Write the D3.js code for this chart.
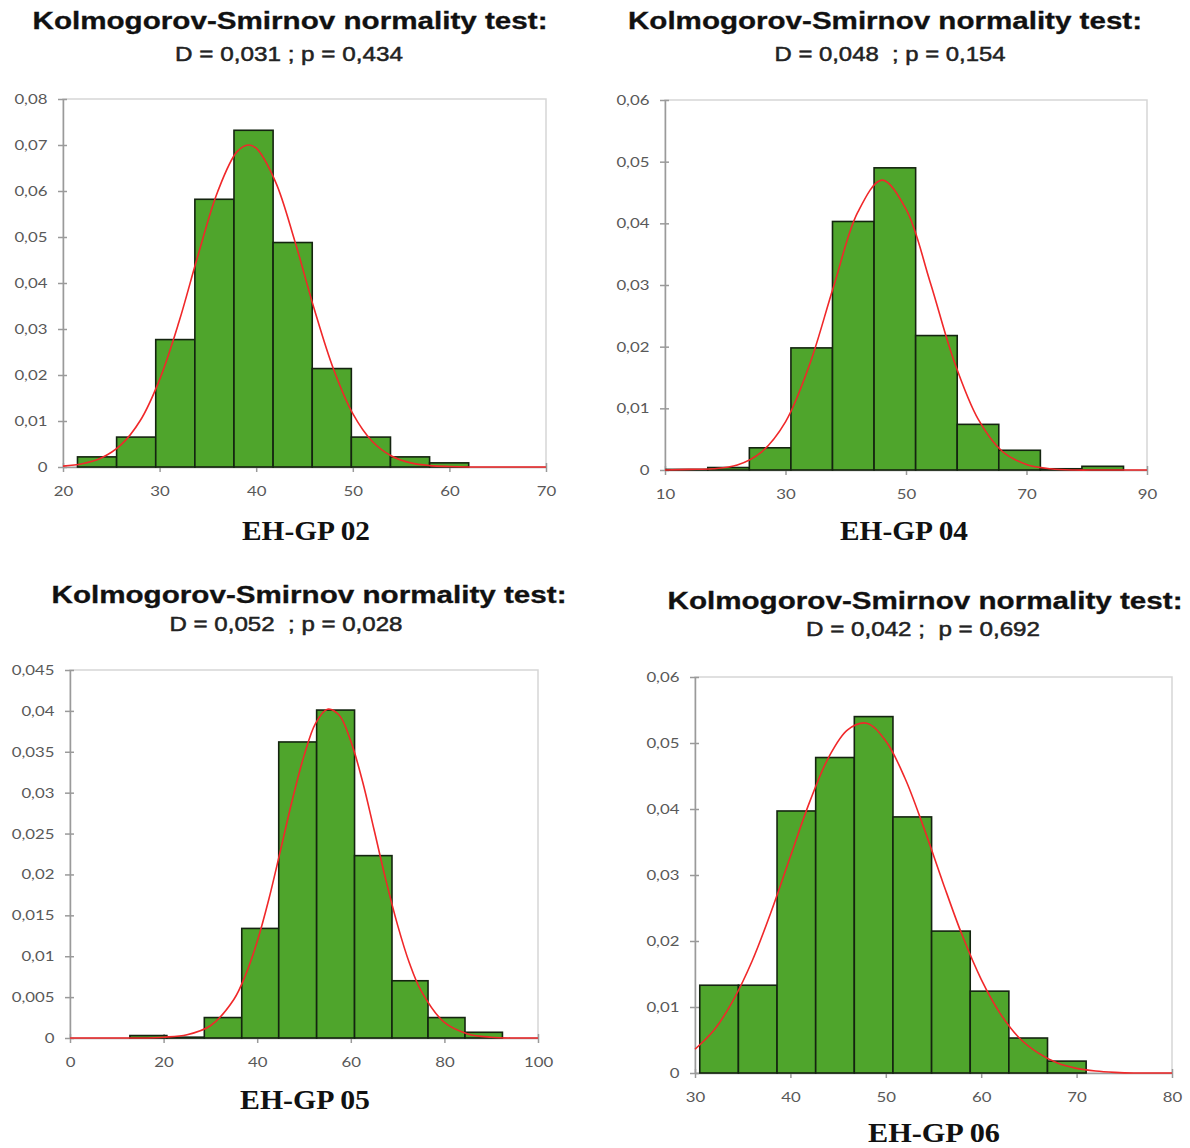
<!DOCTYPE html>
<html>
<head>
<meta charset="utf-8">
<title>KS normality histograms</title>
<script src="https://d3js.org/d3.v7.min.js"></script>
<style>
  body { margin: 0; background: #fff; }
  svg { display: block; }
  .title { font-family: "Liberation Sans", Arial, sans-serif; font-weight: bold; font-size: 23px; fill: #111; stroke: #111; stroke-width: 0.3; }
  .sub { font-family: "Liberation Sans", Arial, sans-serif; font-size: 21px; fill: #222; stroke: #222; stroke-width: 0.5; white-space: pre; }
  .name { font-family: "Liberation Serif", "Times New Roman", serif; font-weight: bold; font-size: 28px; fill: #111; }
  .axis text { font-family: Lato, "Open Sans", sans-serif; font-size: 14px; fill: #595959; }
  .axis path, .axis line { stroke: #9a9a9a; stroke-width: 1.5; }
</style>
</head>
<body>
<svg id="viz" width="1190" height="1148"></svg>
<script>
  const titleText = "Kolmogorov-Smirnov normality test:"
  const panelNames = ["EH-GP 02", "EH-GP 04", "EH-GP 05", "EH-GP 06"]
  const ksText = ["D = 0,031 ; p = 0,434", "D = 0,048  ; p = 0,154", "D = 0,052  ; p = 0,028", "D = 0,042 ;  p = 0,692"]

  // EH-GP 02
  const xDom02 = [20, 70]
  const xTicks02 = [20, 30, 40, 50, 60, 70]
  const yTicks02 = [0, 0.01, 0.02, 0.03, 0.04, 0.05, 0.06, 0.07, 0.08]
  const edges02 = [21.5, 25.55, 29.6, 33.65, 37.7, 41.75, 45.8, 49.85, 53.9, 57.95, 62.0]
  const dens02 = [0.0022, 0.0065, 0.0277, 0.0582, 0.0732, 0.0488, 0.0214, 0.0065, 0.0022, 0.0009]
  const curveX02 = [20, 22, 24, 26, 28, 30, 32, 34, 36, 38, 39.2, 40, 42, 44, 46, 48, 50, 52, 54, 56, 58, 60, 62, 66, 70]
  const curveY02 = [0.0002, 0.0007, 0.0020, 0.0048, 0.0101, 0.0190, 0.0315, 0.0462, 0.0598, 0.0685, 0.0700, 0.0693, 0.0620, 0.0491, 0.0344, 0.0213, 0.0116, 0.0056, 0.0024, 0.0009, 0.0003, 0.0001, 0, 0, 0]

  // EH-GP 04
  const xDom04 = [10, 90]
  const xTicks04 = [10, 30, 50, 70, 90]
  const yTicks04 = [0, 0.01, 0.02, 0.03, 0.04, 0.05, 0.06]
  const edges04 = [10.2, 17.1, 24.0, 30.9, 37.8, 44.7, 51.6, 58.5, 65.4, 72.3, 79.2, 86.1]
  const dens04 = [0.0001, 0.0004, 0.0036, 0.0198, 0.0403, 0.0490, 0.0218, 0.0074, 0.0032, 0.0002, 0.0006]
  const curveX04 = [10, 14, 18, 22, 26, 30, 34, 38, 42, 46, 50, 54, 58, 62, 66, 70, 74, 78, 82, 86, 90]
  const curveY04 = [0, 0.0001, 0.0002, 0.0008, 0.0029, 0.0078, 0.0171, 0.0298, 0.0418, 0.0470, 0.0423, 0.0305, 0.0176, 0.0082, 0.0030, 0.0009, 0.0002, 0, 0, 0, 0]

  // EH-GP 05
  const xDom05 = [0, 100]
  const xTicks05 = [0, 20, 40, 60, 80, 100]
  const yTicks05 = [0, 0.005, 0.01, 0.015, 0.02, 0.025, 0.03, 0.035, 0.04, 0.045]
  const edges05 = [12.8, 20.7, 28.7, 36.7, 44.6, 52.7, 60.8, 68.8, 76.5, 84.4, 92.4]
  const dens05 = [0.0003, 0.0001, 0.0025, 0.0134, 0.0362, 0.0401, 0.0223, 0.0070, 0.0025, 0.0007]
  const curveX05 = [0, 5, 10, 15, 20, 25, 30, 35, 37.5, 40, 42.5, 45, 47.5, 50, 52.5, 55, 57.5, 60, 62.5, 65, 67.5, 70, 72.5, 75, 80, 85, 90, 95, 100]
  const curveY05 = [0, 0, 0, 0, 0.0001, 0.0004, 0.0015, 0.0047, 0.0077, 0.0118, 0.0170, 0.0230, 0.0291, 0.0345, 0.0385, 0.0402, 0.0395, 0.0363, 0.0314, 0.0254, 0.0193, 0.0138, 0.0092, 0.0058, 0.0019, 0.0005, 0.0001, 0, 0]

  // EH-GP 06
  const xDom06 = [30, 80]
  const xTicks06 = [30, 40, 50, 60, 70, 80]
  const yTicks06 = [0, 0.01, 0.02, 0.03, 0.04, 0.05, 0.06]
  const edges06 = [30.5, 34.55, 38.6, 42.65, 46.7, 50.75, 54.8, 58.85, 62.9, 66.95, 71.0]
  const dens06 = [0.0133, 0.0133, 0.0397, 0.0478, 0.0540, 0.0388, 0.0215, 0.0124, 0.0053, 0.0018]
  const curveX06 = [30, 32, 34, 36, 38, 40, 42, 44, 46, 48, 50, 52, 54, 56, 58, 60, 62, 64, 66, 68, 70, 72, 74, 76, 78, 80]
  const curveY06 = [0.0036, 0.0065, 0.0110, 0.0170, 0.0245, 0.0328, 0.0410, 0.0478, 0.0520, 0.0530, 0.0503, 0.0447, 0.0371, 0.0288, 0.0209, 0.0142, 0.0090, 0.0053, 0.0030, 0.0015, 0.0007, 0.0003, 0.0001, 0, 0, 0]

  // where each panel sits on the page
  const layout = [
    { x0: 63, x1: 546, y0: 99, y1: 467, tX: 290, tY: 29, tW: 515, sX: 289, sY: 61, sW: 228, nX: 306, nY: 540, nW: 128 },
    { x0: 665, x1: 1147, y0: 100, y1: 470, tX: 885, tY: 29, tW: 514, sX: 890, sY: 61, sW: 231, nX: 904, nY: 540, nW: 128 },
    { x0: 70, x1: 538, y0: 670, y1: 1038, tX: 309, tY: 603, tW: 515, sX: 286, sY: 631, sW: 233, nX: 305, nY: 1109, nW: 130 },
    { x0: 695, x1: 1172, y0: 677, y1: 1073, tX: 925, tY: 609, tW: 515, sX: 923, sY: 636, sW: 234, nX: 934, nY: 1142, nW: 132 }
  ]

  const panels = [
    { xDom: xDom02, xTicks: xTicks02, yTicks: yTicks02, edges: edges02, dens: dens02, cx: curveX02, cy: curveY02 },
    { xDom: xDom04, xTicks: xTicks04, yTicks: yTicks04, edges: edges04, dens: dens04, cx: curveX04, cy: curveY04 },
    { xDom: xDom05, xTicks: xTicks05, yTicks: yTicks05, edges: edges05, dens: dens05, cx: curveX05, cy: curveY05 },
    { xDom: xDom06, xTicks: xTicks06, yTicks: yTicks06, edges: edges06, dens: dens06, cx: curveX06, cy: curveY06 }
  ]

  const fmt = d3.formatLocale({ decimal: ",", thousands: ".", grouping: [3], currency: ["", ""] }).format(".3~f")
  const svg = d3.select("#viz")

  panels.forEach((p, k) => {
    const L = layout[k]
    const x = d3.scaleLinear().domain(p.xDom).range([L.x0, L.x1])
    const y = d3.scaleLinear().domain([0, d3.max(p.yTicks)]).range([L.y1, L.y0])
    const g = svg.append("g")

    // plot area frame (top + right are light grey)
    g.append("rect")
      .attr("x", L.x0).attr("y", L.y0)
      .attr("width", L.x1 - L.x0).attr("height", L.y1 - L.y0)
      .attr("fill", "none").attr("stroke", "#d6d6d6").attr("stroke-width", 1.5)

    // axes
    const yAxis = g.append("g").attr("class", "axis")
      .attr("transform", `translate(${L.x0},0)`)
      .call(d3.axisLeft(y).tickValues(p.yTicks).tickFormat(fmt).tickSize(5).tickPadding(8).tickSizeOuter(0))
    yAxis.selectAll("line").attr("x1", 4).attr("x2", -5)
    yAxis.selectAll("text").attr("transform", "scale(1.2,1)")

    const xAxis = g.append("g").attr("class", "axis")
      .attr("transform", `translate(0,${L.y1})`)
      .call(d3.axisBottom(x).tickValues(p.xTicks).tickFormat(d3.format("d")).tickSize(5).tickPadding(14).tickSizeOuter(0))
    xAxis.selectAll("line").attr("y1", -4).attr("y2", 5)
    xAxis.selectAll("text").attr("transform", "scale(1.2,1)")

    // histogram bars
    g.selectAll("rect.bar")
      .data(p.dens).enter()
      .append("rect").attr("class", "bar")
      .attr("x", (d, i) => x(p.edges[i]))
      .attr("width", (d, i) => x(p.edges[i + 1]) - x(p.edges[i]))
      .attr("y", d => y(d))
      .attr("height", d => y(0) - y(d))
      .attr("fill", "#4fa52c")
      .attr("stroke", "#142410").attr("stroke-width", 1.6)

    // fitted normal curve
    const pts = p.cx.map((v, i) => [v, p.cy[i]])
    g.append("path")
      .attr("d", d3.line().x(d => x(d[0])).y(d => y(d[1])).curve(d3.curveCatmullRom)(pts))
      .attr("fill", "none").attr("stroke", "#f0282a").attr("stroke-width", 1.6)

    // texts
    g.append("text").attr("class", "title")
      .attr("x", L.tX).attr("y", L.tY).attr("text-anchor", "middle")
      .attr("textLength", L.tW).attr("lengthAdjust", "spacingAndGlyphs")
      .text(titleText)
    g.append("text").attr("class", "sub")
      .attr("x", L.sX).attr("y", L.sY).attr("text-anchor", "middle")
      .attr("textLength", L.sW).attr("lengthAdjust", "spacingAndGlyphs")
      .text(ksText[k])
    g.append("text").attr("class", "name")
      .attr("x", L.nX).attr("y", L.nY).attr("text-anchor", "middle")
      .attr("textLength", L.nW).attr("lengthAdjust", "spacingAndGlyphs")
      .text(panelNames[k])
  })
</script>
</body>
</html>
